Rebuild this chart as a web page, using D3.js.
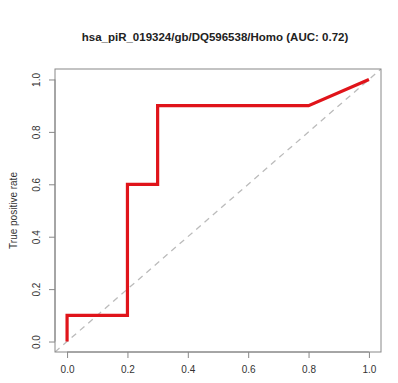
<!DOCTYPE html>
<html>
<head>
<meta charset="utf-8">
<script src="https://cdn.jsdelivr.net/npm/d3@7"></script>
<style>
  body { margin: 0; background: #fff; }
  text { font-family: "Liberation Sans", Arial, sans-serif; }
</style>
</head>
<body>
<svg id="chart" width="398" height="383"></svg>
<script>
const FPR = [0, 0, 0.2, 0.2, 0.3, 0.3, 0.8, 1.0];
const TPR = [0, 0.1, 0.1, 0.6, 0.6, 0.9, 0.9, 1.0];
const TICKS = [0, 0.2, 0.4, 0.6, 0.8, 1.0];
const TITLE = "hsa_piR_019324/gb/DQ596538/Homo (AUC: 0.72)";
const Y_LABEL = "True positive rate";

const svg = d3.select("#chart");
const box = { left: 55, right: 381, top: 69, bottom: 352 };

const x = d3.scaleLinear().domain([-0.04, 1.04]).range([box.left, box.right]);
const y = d3.scaleLinear().domain([-0.04, 1.04]).range([box.bottom, box.top]);

// diagonal reference line, clipped to the box
svg.append("clipPath").attr("id", "clip")
  .append("rect")
  .attr("x", box.left).attr("y", box.top)
  .attr("width", box.right - box.left).attr("height", box.bottom - box.top);

svg.append("line")
  .attr("clip-path", "url(#clip)")
  .attr("x1", x(-0.04)).attr("y1", y(-0.04))
  .attr("x2", x(1.04)).attr("y2", y(1.04))
  .attr("stroke", "#bbb")
  .attr("stroke-width", 1.3)
  .attr("stroke-dasharray", "6,5");

const pts = FPR.map((d, i) => [d, TPR[i]]);
svg.append("path")
  .datum(pts)
  .attr("fill", "none")
  .attr("stroke", "#e0141a")
  .attr("stroke-width", 3.2)
  .attr("stroke-linejoin", "miter")
  .attr("d", d3.line().x(d => x(d[0])).y(d => y(d[1])));

svg.append("rect")
  .attr("x", box.left).attr("y", box.top)
  .attr("width", box.right - box.left).attr("height", box.bottom - box.top)
  .attr("fill", "none").attr("stroke", "#888").attr("stroke-width", 1);

const xAxis = svg.append("g")
  .attr("transform", `translate(0,${box.bottom})`)
  .call(d3.axisBottom(x).tickValues(TICKS).tickFormat(d3.format(".1f")).tickSizeOuter(0).tickSize(6).tickPadding(8));
xAxis.select(".domain").attr("d", `M${x(0)},0H${x(1)}`).attr("stroke", "#888");
xAxis.selectAll(".tick line").attr("stroke", "#888");
xAxis.selectAll("text").attr("fill", "#333").attr("font-size", 10);

const yAxis = svg.append("g")
  .attr("transform", `translate(${box.left},0)`)
  .call(d3.axisLeft(y).tickValues(TICKS).tickFormat(d3.format(".1f")).tickSizeOuter(0).tickSize(6));
yAxis.select(".domain").attr("d", `M0,${y(0)}V${y(1)}`).attr("stroke", "#888");
yAxis.selectAll(".tick line").attr("stroke", "#888");
yAxis.selectAll("text")
  .attr("fill", "#333").attr("font-size", 10)
  .attr("x", null).attr("dy", null)
  .attr("text-anchor", "middle")
  .attr("transform", "translate(-15,0) rotate(-90)");

svg.append("text")
  .attr("x", 17).attr("y", (box.top + box.bottom) / 2)
  .attr("transform", `rotate(-90,17,${(box.top + box.bottom) / 2})`)
  .attr("text-anchor", "middle")
  .attr("font-size", 10).attr("fill", "#333")
  .text(Y_LABEL);

svg.append("text")
  .attr("x", 215).attr("y", 41)
  .attr("text-anchor", "middle")
  .attr("font-size", 11.5).attr("font-weight", "bold").attr("fill", "#222")
  .text(TITLE);
</script>
</body>
</html>
